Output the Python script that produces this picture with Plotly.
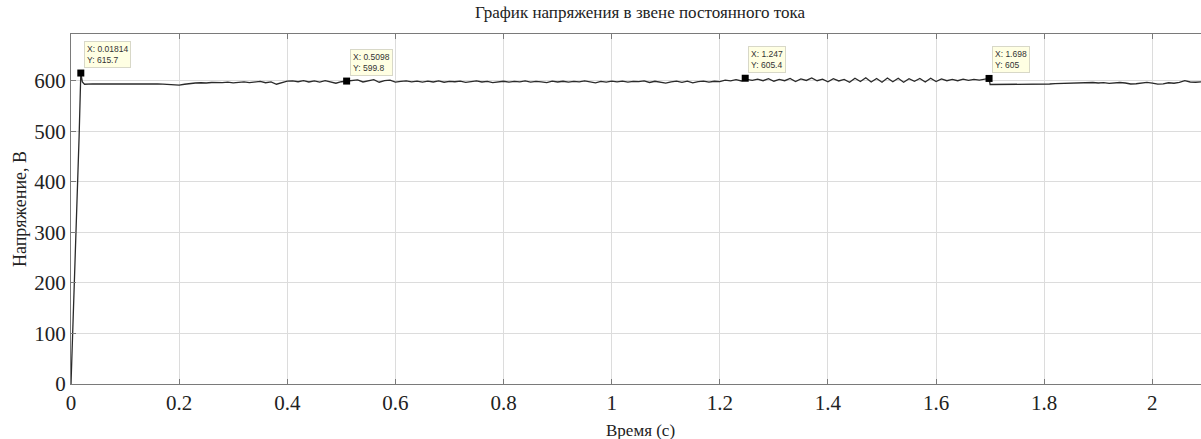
import numpy as np
import plotly.graph_objects as go

# ---- data ----
t_start = [0.0, 0.005, 0.010, 0.015, 0.021, 0.025]
v_start = [0.0, 150.0, 320.0, 490.0, 598.0, 593.5]

grid_t0 = 0.03
grid_dt = 0.01
v_grid = [
    594.0, 594.3, 594.0, 593.8, 594.0, 594.4, 594.6, 594.3, 594.0, 594.2,
    594.5, 594.8, 594.4, 594.0, 593.6, 593.2, 592.0, 591.6, 593.5, 595.0,
    596.0, 596.5, 596.0, 597.0, 596.2, 596.8, 597.6, 596.4, 597.2, 598.2,
    596.6, 597.8, 599.0, 596.5, 598.0, 593.5, 596.5, 599.5, 600.2, 598.5,
    600.5, 598.0, 600.3, 597.8, 600.5, 598.5, 595.5, 598.5, 600.5, 601.5,
    602.0, 598.0, 601.0, 602.5, 597.5, 600.5, 601.5, 597.8, 599.0, 600.0,
    598.2, 599.8, 597.6, 599.5, 598.0, 600.2, 597.5, 599.0, 598.5, 599.6,
    597.2, 598.4, 600.0, 598.0, 599.2, 596.8, 598.6, 599.4, 597.6, 599.0,
    598.2, 600.0, 597.8, 599.2, 598.4, 596.8, 599.6, 598.0, 599.4, 597.6,
    599.2, 598.2, 600.0, 598.6, 596.4, 599.2, 597.6, 599.6, 598.4, 599.8,
    597.8, 599.0, 598.6, 600.2, 597.0, 599.4, 598.2, 595.6, 598.4, 599.6,
    597.2, 599.8, 596.4, 598.8, 599.6, 597.6, 599.4, 598.6, 601.5, 600.2,
    602.5, 600.0, 603.0, 601.0, 603.5, 600.5, 604.5, 599.5, 603.0, 600.5,
    605.0, 599.0, 604.0, 601.0, 606.0, 600.5, 603.5, 598.5, 604.5, 600.0,
    603.0, 597.5, 605.5, 599.0, 606.5, 598.0, 605.0, 597.5, 606.0, 598.5,
    605.5, 597.5, 604.5, 599.5, 605.0, 598.0, 605.5, 599.0, 604.0, 600.5,
    603.0, 600.5, 603.5, 601.0, 603.0, 601.5, 603.5, 593.0, 593.2, 593.0,
    593.2, 593.4, 593.0, 593.6, 593.8, 593.4, 594.0, 594.4, 594.0, 594.6,
    595.0, 594.6, 595.4, 596.0, 595.2, 596.2, 597.0, 596.0, 596.8, 595.4,
    596.2, 597.0, 596.0, 594.0, 594.5, 596.6, 597.2, 595.6, 593.6, 594.2,
    596.5, 595.5, 597.2, 600.5, 598.0, 597.5, 598.2,
]

tip_t = [0.01814, 0.5098, 1.247, 1.698]
tip_v = [615.7, 599.8, 605.4, 605.0]
tip_labels = ["X: 0.01814<br>Y: 615.7", "X: 0.5098<br>Y: 599.8",
              "X: 1.247<br>Y: 605.4", "X: 1.698<br>Y: 605"]

drop_t = [1.702]
drop_v = [593.0]

x_ticks = [0, 0.2, 0.4, 0.6, 0.8, 1.0, 1.2, 1.4, 1.6, 1.8, 2.0]
x_tick_text = ["0", "0.2", "0.4", "0.6", "0.8", "1", "1.2", "1.4", "1.6", "1.8", "2"]
y_ticks = [0, 100, 200, 300, 400, 500, 600]

title_text = "График напряжения в звене постоянного тока"
x_title = "Время (с)"
y_title = "Напряжение, В"

# ---- build trace ----
t_grid = list(np.round(grid_t0 + grid_dt * np.arange(len(v_grid)), 4))
pairs = sorted(zip(t_start + t_grid + tip_t + drop_t, v_start + v_grid + tip_v + drop_v))
t_all = [p[0] for p in pairs]
v_all = [p[1] for p in pairs]

serif = "Liberation Serif"
H = 439
TOP, BOTTOM = 34, 384
PLOT_H = BOTTOM - TOP

fig = go.Figure()
fig.add_trace(go.Scatter(x=t_all, y=v_all, mode="lines",
                         line=dict(color="#2a2a2a", width=1.3), showlegend=False))
fig.add_trace(go.Scatter(x=tip_t, y=tip_v, mode="markers",
                         marker=dict(symbol="square", size=7, color="black"),
                         showlegend=False))

for tx, ty, lab in zip(tip_t, tip_v, tip_labels):
    fig.add_annotation(x=tx, y=ty, text=lab, showarrow=False, xanchor="left",
                       yanchor="bottom", xshift=3, yshift=5, align="left",
                       font=dict(family="Liberation Sans", size=8.5, color="#333"),
                       bgcolor="#FFFFE3", bordercolor="#D8D8C8", borderwidth=1, borderpad=2)

# x-axis title placed below the tick labels
fig.add_annotation(xref="paper", yref="paper", x=(640 - 71) / (1201 - 71),
                   y=(BOTTOM - 430) / PLOT_H, text=x_title, showarrow=False,
                   xanchor="center", yanchor="middle",
                   font=dict(family=serif, size=17, color="#222"))

fig.update_layout(
    width=1201, height=H,
    margin=dict(l=71, r=0, t=TOP, b=H - BOTTOM),
    paper_bgcolor="white", plot_bgcolor="white",
    title=dict(text=title_text, x=640 / 1201, xanchor="center", y=1 - 12 / H,
               yanchor="middle", font=dict(family=serif, size=17, color="#222")),
    font=dict(family=serif, color="#222"),
)
fig.update_xaxes(range=[0, 2.09], tickvals=x_ticks, ticktext=x_tick_text,
                 showgrid=True, gridcolor="#dcdcdc", gridwidth=1,
                 showline=True, linecolor="#7a7a7a", linewidth=1, mirror="ticks",
                 ticks="inside", ticklen=5, tickcolor="#7a7a7a",
                 tickfont=dict(family=serif, size=21, color="#222"),
                 zeroline=False)
fig.update_yaxes(range=[0, 693], tickvals=y_ticks,
                 showgrid=True, gridcolor="#dcdcdc", gridwidth=1,
                 showline=True, linecolor="#7a7a7a", linewidth=1,
                 ticks="inside", ticklen=5, tickcolor="#7a7a7a",
                 tickfont=dict(family=serif, size=21, color="#222"),
                 title=dict(text=y_title, font=dict(family=serif, size=18, color="#222"),
                            standoff=2),
                 zeroline=False)

fig.write_html("out.html")
